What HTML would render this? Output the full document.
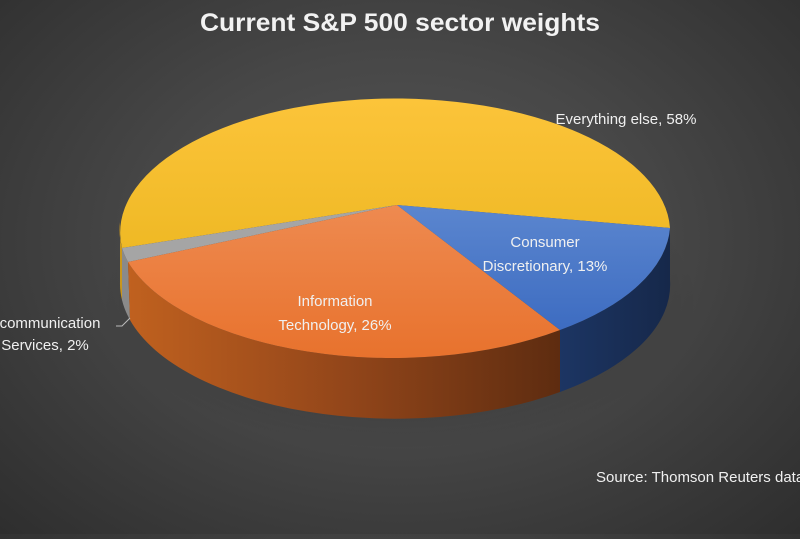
<!DOCTYPE html>
<html><head><style>
html,body{margin:0;padding:0;}
body{width:800px;height:534px;overflow:hidden;background:radial-gradient(ellipse at 50% 45%,#565656 0%,#474747 45%,#2e2e2e 100%);font-family:"Liberation Sans",sans-serif;}
</style></head><body>
<svg width="800" height="534" xmlns="http://www.w3.org/2000/svg">
<defs>
<linearGradient id="os" x1="0" x2="1" y1="0" y2="0">
<stop offset="0" stop-color="#c0611f"/><stop offset="0.5" stop-color="#93461a"/><stop offset="1" stop-color="#5e2c10"/></linearGradient>
<linearGradient id="bs" x1="0" x2="1"><stop offset="0" stop-color="#1c3563"/><stop offset="1" stop-color="#16284a"/></linearGradient>
<linearGradient id="yt" x1="0" x2="0" y1="0" y2="1"><stop offset="0" stop-color="#fcc43a"/><stop offset="1" stop-color="#efb925"/></linearGradient>
<linearGradient id="ot" x1="0" x2="0" y1="0" y2="1"><stop offset="0" stop-color="#ee8a50"/><stop offset="1" stop-color="#e8722d"/></linearGradient>
<linearGradient id="bt" x1="0" x2="0" y1="0" y2="1"><stop offset="0" stop-color="#5b86cf"/><stop offset="1" stop-color="#3d6cc1"/></linearGradient>
<radialGradient id="sh"><stop offset="0" stop-color="#000" stop-opacity="0.35"/><stop offset="1" stop-color="#000" stop-opacity="0"/></radialGradient>
</defs>
<text x="400" y="31" text-anchor="middle" fill="#f2f2f2" font-size="25" font-weight="bold" textLength="400" lengthAdjust="spacingAndGlyphs">Current S&amp;P 500 sector weights</text>
<ellipse cx="400" cy="300" rx="300" ry="150" fill="url(#sh)"/>
<path d="M120 222 A275 134 0 0 0 122 248 L122 300 A275 134 0 0 1 120 282 Z" fill="#c9961c"/>
<path d="M122 248 A275 134 0 0 0 128 262 L130 320 A275 134 0 0 1 122 300 Z" fill="#8a8a8a"/>
<path d="M128 262 A275 134 0 0 0 560 330 L560 392 A275 134 0 0 1 130 320 Z" fill="url(#os)"/>
<path d="M560 330 A275 134 0 0 0 670 228 L670 280 A275 134 0 0 1 560 392 Z" fill="url(#bs)"/>
<path d="M397 205 L670 228 A275 134 0 1 0 122 248 Z" fill="url(#yt)"/>
<path d="M397 205 L122 248 A275 134 0 0 0 128 262 Z" fill="#a5a5a5"/>
<path d="M397 205 L128 262 A275 134 0 0 0 560 330 Z" fill="url(#ot)"/>
<path d="M397 205 L560 330 A275 134 0 0 0 670 228 Z" fill="url(#bt)"/>
<g fill="#f0f0f0" font-size="15" text-anchor="middle">
<text x="626" y="124">Everything else, 58%</text>
<text x="545" y="247">Consumer</text>
<text x="545" y="271">Discretionary, 13%</text>
<text x="335" y="306">Information</text>
<text x="335" y="330">Technology, 26%</text>
<text x="50" y="328">communication</text>
<text x="45" y="350">Services, 2%</text>
<text x="596" y="482" text-anchor="start">Source: Thomson Reuters data</text>
</g>
<path d="M116 326 L122 326 L130 318" stroke="#bbb" fill="none" stroke-width="1"/>
</svg>
</body></html>
